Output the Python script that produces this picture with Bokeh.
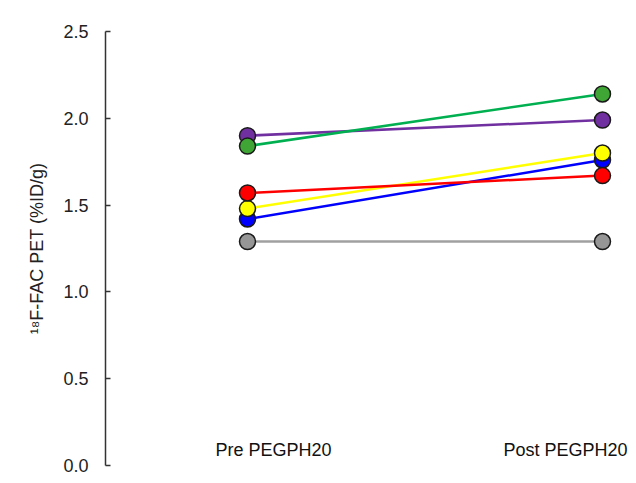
from bokeh.plotting import figure
from bokeh.models import Range1d, FixedTicker, PrintfTickFormatter, ColumnDataSource, Label
from bokeh.core.properties import value
from bokeh.embed import file_html
from bokeh.resources import INLINE

# ---- data ----
categories = ["Pre PEGPH20", "Post PEGPH20"]
series_names = ["gray", "blue", "yellow", "red", "purple", "green"]
pre_values = [1.29, 1.42, 1.48, 1.57, 1.90, 1.84]
post_values = [1.29, 1.76, 1.80, 1.67, 1.99, 2.14]
y_ticks = [0.0, 0.5, 1.0, 1.5, 2.0, 2.5]
y_label = "\u00b9\u2078F-FAC PET (%ID/g)"

# ---- styles / layout ----
line_colors = ["#a0a0a0", "#0000ff", "#ffff00", "#ff0000", "#7030a0", "#00b050"]
fill_colors = ["#969696", "#0000ff", "#ffff00", "#ff0000", "#7030a0", "#3fa535"]
FONT = "Liberation Sans"
W, H = 636, 483
FL, FT, FB = 105, 31, 18          # frame left / top / bottom margins (px)
X0, X1 = 0.6, 2.0958
Y0, Y1 = 0.0, 2.5

p = figure(width=W, height=H, output_backend="svg", toolbar_location=None,
           x_range=Range1d(X0, X1), y_range=Range1d(Y0, Y1),
           min_border_left=FL, min_border_top=FT, min_border_bottom=FB, min_border_right=0)
p.outline_line_color = None
p.grid.visible = False
p.xaxis.visible = False
p.background_fill_color = "white"
p.border_fill_color = "white"

yax = p.yaxis[0]
yax.ticker = FixedTicker(ticks=y_ticks)
yax.formatter = PrintfTickFormatter(format="%.1f")
yax.major_tick_in = 5
yax.major_tick_out = 0
yax.minor_tick_in = 0
yax.minor_tick_out = 0
yax.axis_line_color = "#333333"
yax.axis_line_width = 1.5
yax.major_tick_line_color = "#333333"
yax.major_tick_line_width = 1.5
yax.major_label_standoff = 17
yax.major_label_text_font = FONT
yax.major_label_text_font_size = "18px"
yax.major_label_text_color = "#222222"
yax.axis_label = y_label
yax.axis_label_text_font = FONT
yax.axis_label_text_font_size = "18px"
yax.axis_label_text_font_style = "normal"
yax.axis_label_text_color = "#222222"
yax.axis_label_standoff = 13

xs = [1, 2]
for name, a, b, lc, fc in zip(series_names, pre_values, post_values, line_colors, fill_colors):
    src = ColumnDataSource(dict(x=xs, y=[a, b]))
    p.line("x", "y", source=src, line_color=lc, line_width=2.5)
    p.scatter("x", "y", source=src, size=16, fill_color=fc, line_color="#1a1a1a", line_width=1.5)

# category labels
offsets = [26, -37]
for i, (cat, off) in enumerate(zip(categories, offsets)):
    p.text(x=[xs[i]], y=[0], text=[cat], x_offset=off, y_offset=-16,
           text_align="center", text_baseline="middle",
           text_font=value(FONT), text_font_size="18px", text_color="#111111")

# picture frame edges (gray top and left), placed via the figure's scales
px_per_x = (W - FL) / (X1 - X0)
px_per_y = (H - FT - FB) / (Y1 - Y0)
def dx(px):
    return X0 + (px - FL) / px_per_x
def dy(py):
    return Y1 + (FT - py) / px_per_y

p.add_layout(Label(x=dx(9), y=dy(5), text=" ", text_font_size="1px", anchor="top_left",
                   padding=(1, 320), background_fill_color="#aaaaaa", background_fill_alpha=1))
p.add_layout(Label(x=dx(9), y=dy(5), text=" ", text_font_size="1px", anchor="top_left",
                   padding=(245, 1), background_fill_color="#aaaaaa", background_fill_alpha=1))

open("out.html", "w").write(file_html(p, INLINE))
